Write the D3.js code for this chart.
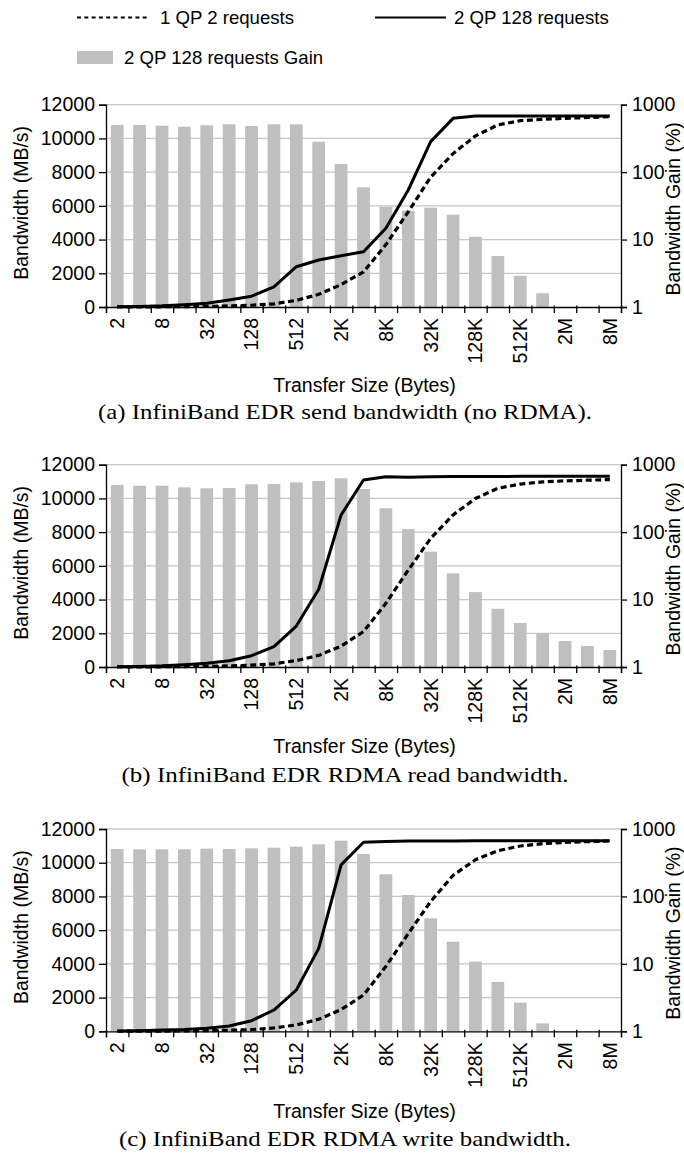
<!DOCTYPE html>
<html>
<head>
<meta charset="utf-8">
<script src="https://cdn.jsdelivr.net/npm/d3@7/dist/d3.min.js"></script>
<style>
  html, body { margin: 0; padding: 0; background: #fff; }
  svg { display: block; }
  text { font-family: "Liberation Sans", Arial, sans-serif; fill: #000; }
  .caption { font-family: "Liberation Serif", "DejaVu Serif", serif; }
</style>
</head>
<body>
<svg id="chart" width="684" height="1155"></svg>
<script>
// Transfer sizes on the x axis (2 B .. 8 MB, powers of two)
const categories = ['2','4','8','16','32','64','128','256','512','1K','2K','4K','8K','16K',
                    '32K','64K','128K','256K','512K','1M','2M','4M','8M'];
// Only every other size is labelled
const tickLabels = ['2','8','32','128','512','2K','8K','32K','128K','512K','2M','8M'];
const bwTicks = [0, 2000, 4000, 6000, 8000, 10000, 12000];
const gainTicks = [1, 10, 100, 1000];

// (a) send, no RDMA — bandwidth in MB/s, gain in %
const sendOneQp = [3.5, 7, 13, 24, 38, 68, 105, 190, 390, 750, 1330, 2080, 3700, 5650,
                   7700, 9100, 10150, 10800, 11050, 11130, 11190, 11240, 11290];
const sendTwoQp = [18, 36, 70, 135, 220, 415, 640, 1200, 2390, 2790, 3040, 3280, 4670, 6940,
                   9810, 11190, 11330, 11330, 11330, 11330, 11330, 11330, 11330];
const sendGain  = [500, 500, 489, 472, 495, 512, 483, 512, 512, 283, 132, 59.6, 30.7, 26.8,
                   29.7, 23.4, 11.0, 5.7, 2.9, 1.6, 1, 1, 1];

// (b) RDMA read
const readOneQp = [3.5, 7, 13, 25, 40, 66, 108, 190, 380, 690, 1240, 2100, 3780, 5750,
                   7630, 9020, 10000, 10600, 10850, 10980, 11040, 11080, 11120];
const readTwoQp = [18, 36, 70, 135, 219, 376, 672, 1206, 2430, 4610, 9020, 11090, 11290, 11250,
                   11290, 11300, 11300, 11300, 11310, 11310, 11320, 11320, 11320];
const readGain  = [500, 489, 489, 462, 447, 451, 512, 517, 548, 573, 629, 436, 226, 111,
                   51.3, 24.5, 12.9, 7.3, 4.5, 3.16, 2.43, 2.05, 1.79];

// (c) RDMA write
const writeOneQp = [3.5, 7, 13, 25, 38, 60, 102, 200, 380, 710, 1290, 2150, 3850, 5800,
                    7700, 9250, 10180, 10710, 10990, 11130, 11200, 11250, 11290];
const writeTwoQp = [18, 36, 72, 110, 178, 314, 629, 1263, 2450, 4920, 9870, 11210, 11260, 11290,
                    11290, 11290, 11300, 11300, 11300, 11300, 11300, 11300, 11300];
const writeGain  = [505, 500, 500, 500, 511, 505, 517, 528, 547, 593, 671, 426, 213, 105,
                    47.4, 21.3, 10.8, 5.4, 2.66, 1.31, 1, 1, 1];

const seriesNames = ['1 QP 2 requests', '2 QP 128 requests', '2 QP 128 requests Gain'];

const panels = [
  { top: 104.7, oneQp: sendOneQp,  twoQp: sendTwoQp,  gain: sendGain,
    caption: '(a) InfiniBand EDR send bandwidth (no RDMA).', capW: 494, titleDy: 85, capDy: 112 },
  { top: 464.7, oneQp: readOneQp,  twoQp: readTwoQp,  gain: readGain,
    caption: '(b) InfiniBand EDR RDMA read bandwidth.', capW: 447, titleDy: 86, capDy: 115 },
  { top: 829,   oneQp: writeOneQp, twoQp: writeTwoQp, gain: writeGain,
    caption: '(c) InfiniBand EDR RDMA write bandwidth.', capW: 452, titleDy: 87, capDy: 115 }
];

const svg = d3.select('#chart');
const left = 106, right = 621, plotH = 202.3;
const barColor = '#bfbfbf', gridColor = '#c6c6c6';
const sans = '"Liberation Sans", Arial, sans-serif';

// Legend
const lg = svg.append('g').attr('class', 'legend');
lg.append('line').attr('x1', 77).attr('x2', 150).attr('y1', 17.5).attr('y2', 17.5)
  .attr('stroke', '#000').attr('stroke-width', 2).attr('stroke-dasharray', '4,3.3');
lg.append('text').attr('x', 160).attr('y', 24).attr('font-size', 18.6).text(seriesNames[0]);
lg.append('line').attr('x1', 375).attr('x2', 446).attr('y1', 17.5).attr('y2', 17.5)
  .attr('stroke', '#000').attr('stroke-width', 2);
lg.append('text').attr('x', 454).attr('y', 24).attr('font-size', 18.6).text(seriesNames[1]);
lg.append('rect').attr('x', 77).attr('y', 51).attr('width', 36).attr('height', 13).attr('fill', barColor);
lg.append('text').attr('x', 124).attr('y', 64).attr('font-size', 18.6).text(seriesNames[2]);

panels.forEach(p => {
  const bottom = p.top + plotH;
  const g = svg.append('g');

  const xBand = d3.scaleBand().domain(categories).range([left, right])
    .paddingInner(0.43).paddingOuter(0.215);
  const xEdge = d3.scaleLinear().domain([0, categories.length]).range([left, right]);
  const xc = c => xBand(c) + xBand.bandwidth() / 2;
  const yBw = d3.scaleLinear().domain([0, 12000]).range([bottom, p.top]);
  const yGain = d3.scaleLog().domain([1, 1000]).range([bottom, p.top]);

  // horizontal gridlines
  g.append('g').selectAll('line').data(bwTicks.slice(1)).join('line')
    .attr('x1', left).attr('x2', right)
    .attr('y1', d => yBw(d)).attr('y2', d => yBw(d))
    .attr('stroke', gridColor).attr('stroke-width', 1.3);

  // gain bars (right log axis)
  g.append('g').selectAll('rect').data(p.gain).join('rect')
    .attr('x', (d, i) => xBand(categories[i]))
    .attr('width', xBand.bandwidth())
    .attr('y', d => yGain(Math.max(1, d)))
    .attr('height', d => bottom - yGain(Math.max(1, d)))
    .attr('fill', barColor);

  // bandwidth lines (left axis)
  const line = d3.line().x((d, i) => xc(categories[i])).y(d => yBw(d));
  g.append('path').datum(p.oneQp).attr('d', line)
    .attr('fill', 'none').attr('stroke', '#000').attr('stroke-width', 3.2)
    .attr('stroke-dasharray', '6,3.5');
  g.append('path').datum(p.twoQp).attr('d', line)
    .attr('fill', 'none').attr('stroke', '#000').attr('stroke-width', 3)
    .attr('stroke-linejoin', 'round');

  // left axis
  const yAxisL = d3.axisLeft(yBw).tickValues(bwTicks).tickFormat(d3.format('d')).tickSize(7).tickPadding(4);
  const gl = g.append('g').attr('transform', `translate(${left},0)`).call(yAxisL);
  gl.selectAll('text').attr('font-size', 19.5).attr('font-family', sans);

  // right axis
  const yAxisR = d3.axisRight(yGain).tickValues(gainTicks).tickFormat(d3.format('d')).tickSize(6).tickPadding(5);
  const gr = g.append('g').attr('transform', `translate(${right},0)`).call(yAxisR);
  gr.selectAll('text').attr('font-size', 19.5).attr('font-family', sans);

  // bottom axis: ticks at slot boundaries
  const xAxis = d3.axisBottom(xEdge).tickValues(d3.range(categories.length + 1)).tickFormat('').tickSize(6);
  const gx = g.append('g').attr('transform', `translate(0,${bottom})`).call(xAxis);
  gx.selectAll('.tick line').attr('y1', -1.5);

  // bottom axis labels, rotated, every other size
  const xLab = d3.axisBottom(xBand).tickValues(tickLabels).tickSize(0).tickPadding(0);
  const gxl = g.append('g').attr('transform', `translate(0,${bottom})`).call(xLab);
  gxl.select('.domain').remove();
  gxl.selectAll('text')
    .attr('font-size', 19.5).attr('font-family', sans)
    .attr('text-anchor', 'end')
    .attr('transform', 'translate(0,11) rotate(-90)')
    .attr('x', 0).attr('y', 0).attr('dy', '0.35em');

  [gl, gr, gx].forEach(a => a.selectAll('.domain, .tick line').attr('stroke', '#000').attr('stroke-width', 1.3));

  // axis titles
  g.append('text').attr('transform', `translate(27.5,${p.top + plotH / 2 - 3}) rotate(-90)`)
    .attr('text-anchor', 'middle').attr('font-size', 19.5).text('Bandwidth (MB/s)');
  g.append('text').attr('transform', `translate(680,${p.top + plotH / 2 + 3}) rotate(-90)`)
    .attr('text-anchor', 'middle').attr('font-size', 19.5).text('Bandwidth Gain (%)');
  g.append('text').attr('x', (left + right) / 2 + 1).attr('y', bottom + p.titleDy)
    .attr('text-anchor', 'middle').attr('font-size', 19.5).text('Transfer Size (Bytes)');

  // sub-figure caption
  g.append('text').attr('class', 'caption')
    .attr('x', 345).attr('y', bottom + p.capDy)
    .attr('text-anchor', 'middle').attr('font-size', 21.5)
    .attr('textLength', p.capW).attr('lengthAdjust', 'spacingAndGlyphs')
    .text(p.caption);
});
</script>
</body>
</html>
